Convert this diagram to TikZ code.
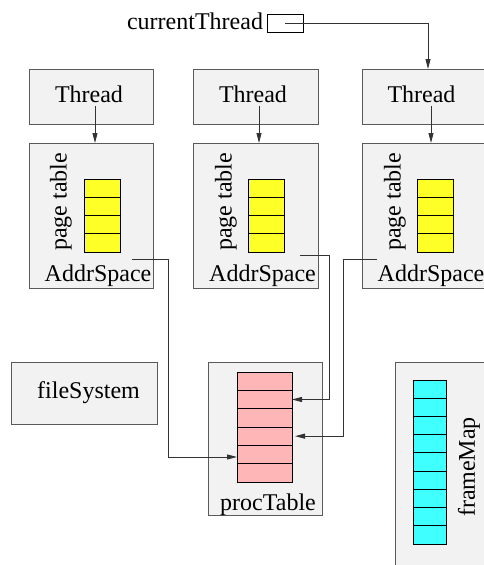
\documentclass[tikz,border=0pt]{standalone}
\usepackage{fontspec}
\setmainfont{Liberation Serif}
\usetikzlibrary{arrows.meta}
\definecolor{boxfill}{RGB}{242,242,242}
\definecolor{boxline}{RGB}{90,90,90}
\definecolor{ptyellow}{RGB}{255,255,40}
\definecolor{ptpink}{RGB}{255,182,182}
\definecolor{fmcyan}{RGB}{64,255,255}
\begin{document}
\begin{tikzpicture}[x=1pt,y=-1pt,
  every node/.style={inner sep=0pt,outer sep=0pt,font=\fontsize{24}{28}\selectfont},
  objbox/.style={draw=boxline,fill=boxfill,line width=1pt,rectangle},
  cell/.style={draw=black,line width=0.9pt,rectangle},
  ycell/.style={cell,fill=ptyellow,minimum width=36pt,minimum height=18.25pt},
  pcell/.style={cell,fill=ptpink,minimum width=55pt,minimum height=18.33pt},
  ccell/.style={cell,fill=fmcyan,minimum width=33pt,minimum height=18.22pt},
  conn/.style={draw=black!80,line width=0.9pt,-{Triangle[length=10pt,width=5pt]}},
  lbl/.style={anchor=base}
]
\useasboundingbox (0,0) rectangle (484,565);
\clip (0,0) rectangle (484,565);

% boxes
\node[objbox,minimum width=124pt,minimum height=55pt] (t1) at (91,96.5) {};
\node[objbox,minimum width=125pt,minimum height=55pt] (t2) at (255.5,96.5) {};
\node[objbox,minimum width=124pt,minimum height=55pt] (t3) at (424,96.5) {};
\node[objbox,minimum width=124pt,minimum height=145pt] (a1) at (91,215.5) {};
\node[objbox,minimum width=125pt,minimum height=145pt] (a2) at (255.5,215.5) {};
\node[objbox,minimum width=124pt,minimum height=145pt] (a3) at (424,215.5) {};
\node[objbox,minimum width=146pt,minimum height=62pt] (fs) at (84,393) {};
\node[objbox,minimum width=114pt,minimum height=153pt] (pt) at (265,438.5) {};
\node[objbox,minimum width=105pt,minimum height=218pt] (fm) at (447.5,471) {};
\node[draw=black,line width=0.9pt,minimum width=36pt,minimum height=18pt] (cur) at (285,23) {};

% labels
\node[anchor=base east] (curlbl) at (263,29) {currentThread};
\node[lbl] (t1l) at (89,102) {Thread};
\node[lbl] (t2l) at (253,102) {Thread};
\node[lbl] (t3l) at (421.5,102) {Thread};
\node[lbl] (a1l) at (98,281) {AddrSpace};
\node[lbl] (a2l) at (262.5,281) {AddrSpace};
\node[lbl] (a3l) at (431,281) {AddrSpace};
\node[rotate=90] (pg1) at (61,202) {page table};
\node[rotate=90] (pg2) at (226,202) {page table};
\node[rotate=90] (pg3) at (395,202) {page table};
\node[lbl] (fsl) at (88.5,398) {fileSystem};
\node[lbl] (ptl) at (268,510) {procTable};
\node[rotate=90] (fml) at (469,467) {frameMap};

% page tables
\foreach \c/\x in {1/102,2/266.5,3/435}{
  \foreach \i in {1,...,4}{
    \node[ycell] (y\c-\i) at (\x,{179+(\i-0.5)*18.25}) {};
  }
}
% procTable cells
\foreach \i in {1,...,6}{
  \node[pcell] (p\i) at (264.5,{372+(\i-0.5)*18.33}) {};
}
% frameMap cells
\foreach \i in {1,...,9}{
  \node[ccell] (f\i) at (429.5,{380+(\i-0.5)*18.22}) {};
}

% connectors
\coordinate (t1s) at (95,106);
\coordinate (t2s) at (259,106);
\coordinate (t3s) at (431,106);
\draw[conn] (t1s) -- (t1s |- a1.north);
\draw[conn] (t2s) -- (t2s |- a2.north);
\draw[conn] (t3s) -- (t3s |- a3.north);
\draw[conn] (cur.center) -| ([xshift=4pt]t3.north);

\coordinate (a1s) at (132,259);
\coordinate (a2s) at (300,255);
\coordinate (a3s) at (377,259);
\draw[conn] (a1s) -- ++(36,0) |- ([yshift=-2.5pt]p5.west);
\draw[conn] (a2s) -- ++(29,0) |- (p2.east);
\draw[conn] (a3s) -- ++(-34,0) |- ([xshift=3pt]p4.east);
\end{tikzpicture}
\end{document}
